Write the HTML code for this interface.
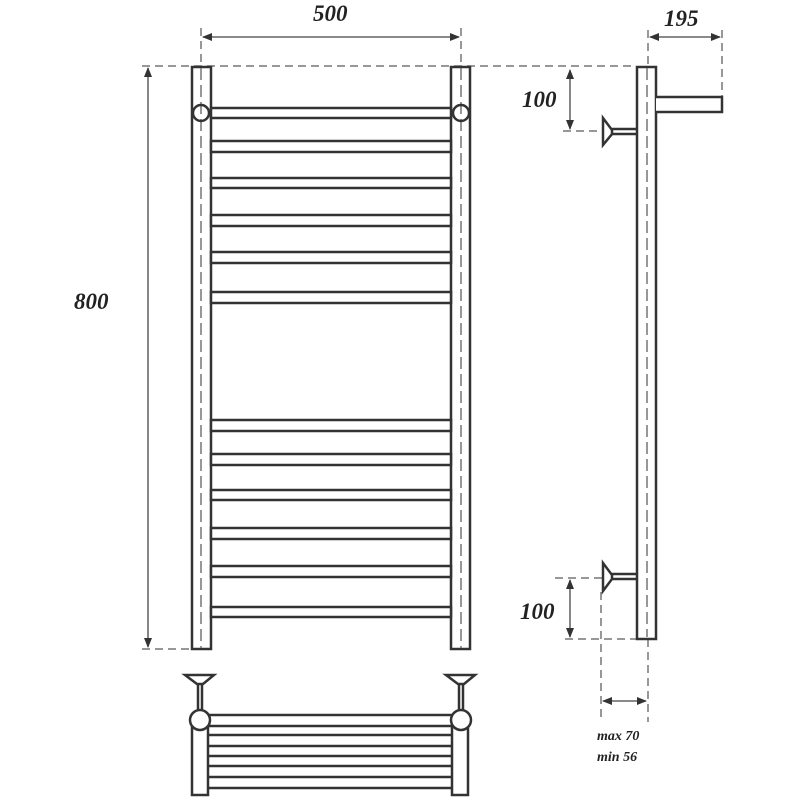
<!DOCTYPE html>
<html><head><style>body{margin:0;background:#fff}svg{display:block}
text{font-family:"Liberation Serif",serif;font-weight:bold;font-style:italic;fill:#222}</style></head>
<body>
<svg width="800" height="800" viewBox="0 0 800 800" xmlns="http://www.w3.org/2000/svg">
<defs>
<marker id="a" markerWidth="10" markerHeight="8" refX="9" refY="4" orient="auto-start-reverse" markerUnits="userSpaceOnUse"><path d="M0,0 L10,4 L0,8 Z" fill="#333"/></marker>
</defs>
<g stroke="#777" stroke-width="1.5" stroke-dasharray="8,5" fill="none">
<line x1="142" y1="66" x2="636" y2="66"/>
<line x1="142" y1="649" x2="191" y2="649"/>
<line x1="201" y1="28" x2="201" y2="66"/>
<line x1="461" y1="28" x2="461" y2="66"/>
<line x1="648" y1="30" x2="648" y2="66"/>
<line x1="722" y1="30" x2="722" y2="97"/>
<line x1="563" y1="131" x2="602" y2="131"/>
<line x1="555" y1="578" x2="602" y2="578"/>
<line x1="565" y1="639" x2="636" y2="639"/>
<line x1="601" y1="592" x2="601" y2="722"/>
<line x1="648" y1="639" x2="648" y2="722"/>
</g>
<g stroke="#444" stroke-width="1.3" fill="none">
<line x1="203" y1="37" x2="459" y2="37" marker-start="url(#a)" marker-end="url(#a)"/>
<line x1="148" y1="68" x2="148" y2="647" marker-start="url(#a)" marker-end="url(#a)"/>
<line x1="650" y1="37" x2="720" y2="37" marker-start="url(#a)" marker-end="url(#a)"/>
<line x1="570" y1="70" x2="570" y2="129" marker-start="url(#a)" marker-end="url(#a)"/>
<line x1="570" y1="580" x2="570" y2="637" marker-start="url(#a)" marker-end="url(#a)"/>
<line x1="603" y1="701" x2="646" y2="701" marker-start="url(#a)" marker-end="url(#a)"/>
</g>
<g stroke="#333" stroke-width="2.5" fill="#fff">
<rect x="192" y="67" width="19" height="582"/>
<rect x="451" y="67" width="19" height="582"/>
<rect x="211" y="108" width="240" height="10"/>
<rect x="211" y="141" width="240" height="11"/>
<rect x="211" y="178" width="240" height="10"/>
<rect x="211" y="215" width="240" height="11"/>
<rect x="211" y="252" width="240" height="11"/>
<rect x="211" y="292" width="240" height="11"/>
<rect x="211" y="420" width="240" height="11"/>
<rect x="211" y="454" width="240" height="11"/>
<rect x="211" y="490" width="240" height="10"/>
<rect x="211" y="528" width="240" height="11"/>
<rect x="211" y="566" width="240" height="11"/>
<rect x="211" y="607" width="240" height="10"/>
<!-- side view -->
<rect x="637" y="67" width="19" height="572" fill="none"/>
<path d="M656,97 H722 V112 H656" />
<path d="M612,129 H637 M612,134 H637" fill="none"/>
<path d="M603,118 L612,130 L612,134 L603,145 Z"/>
<path d="M612,574 H637 M612,579 H637" fill="none"/>
<path d="M603,563 L612,575 L612,579 L603,591 Z"/>
<!-- bottom view -->
<rect x="192" y="727" width="16" height="68"/>
<rect x="452" y="727" width="16" height="68"/>
<line x1="208" y1="715" x2="452" y2="715"/>
<line x1="208" y1="726" x2="452" y2="726"/>
<line x1="208" y1="735" x2="452" y2="735"/>
<line x1="208" y1="746" x2="452" y2="746"/>
<line x1="208" y1="756" x2="452" y2="756"/>
<line x1="208" y1="766" x2="452" y2="766"/>
<line x1="208" y1="777" x2="452" y2="777"/>
<line x1="208" y1="788" x2="452" y2="788"/>
<path d="M198,684 V712 M202,684 V712" fill="none"/>
<path d="M459,684 V712 M463,684 V712" fill="none"/>
<path d="M185,675 H214 L203,684 H197 Z"/>
<path d="M446,675 H475 L464,684 H458 Z"/>
<circle cx="200" cy="720" r="10"/>
<circle cx="461" cy="720" r="10"/>
</g>
<g stroke="#777" stroke-width="1.5" stroke-dasharray="12,5" fill="none">
<line x1="201" y1="68" x2="201" y2="648"/>
<line x1="461" y1="68" x2="461" y2="648"/>
<line x1="647" y1="68" x2="647" y2="637"/>
</g>
<g stroke="#333" stroke-width="2.5" fill="none">
<circle cx="201" cy="113" r="8"/>
<circle cx="461" cy="113" r="8"/>
</g>
<text x="313" y="21" font-size="23">500</text>
<text x="74" y="309" font-size="23">800</text>
<text x="664" y="26" font-size="23">195</text>
<text x="522" y="107" font-size="23">100</text>
<text x="520" y="619" font-size="23">100</text>
<text x="597" y="740" font-size="14">max 70</text>
<text x="597" y="761" font-size="14">min 56</text>
</svg>
</body></html>
